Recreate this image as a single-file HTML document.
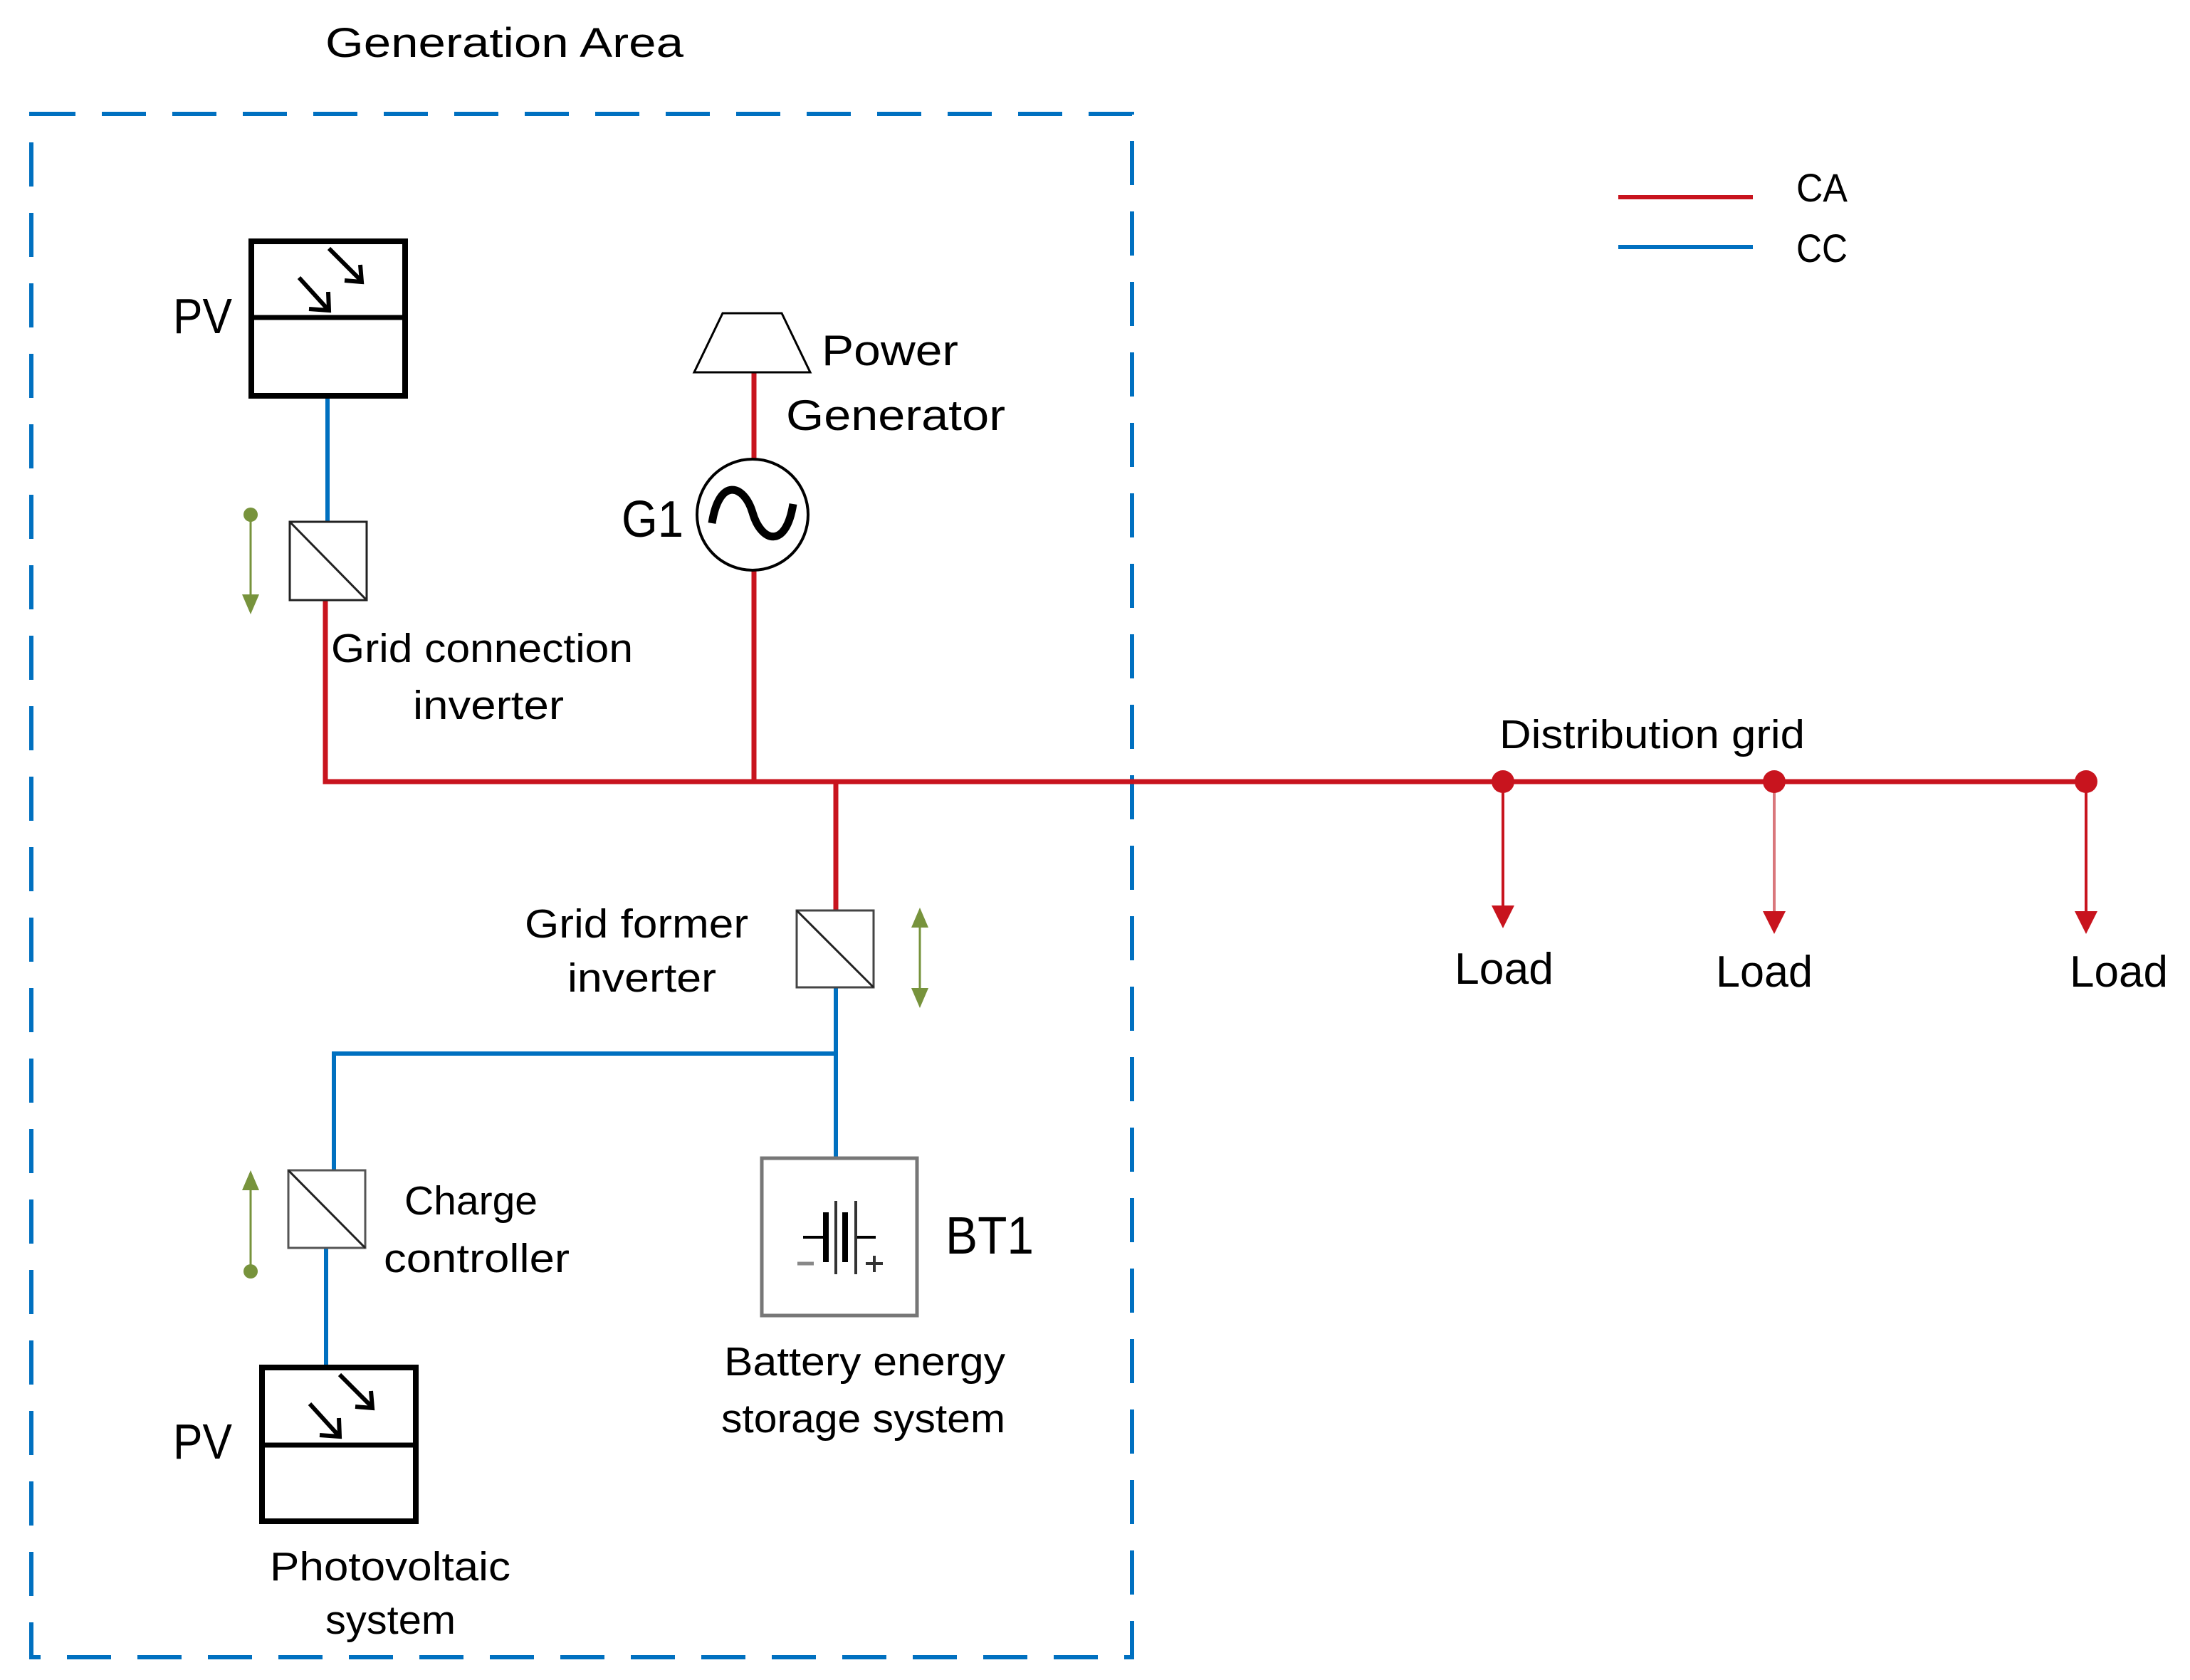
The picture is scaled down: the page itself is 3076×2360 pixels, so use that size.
<!DOCTYPE html>
<html><head><meta charset="utf-8"><style>html,body{margin:0;padding:0;background:#fff}svg{display:block}</style></head>
<body>
<svg width="3076" height="2360" viewBox="0 0 3076 2360" xmlns="http://www.w3.org/2000/svg" font-family="Liberation Sans, sans-serif" fill="#000">
<rect x="0" y="0" width="3076" height="2360" fill="#fff"/>
<rect x="44" y="160" width="1546" height="2168" fill="none" stroke="#0070C0" stroke-width="6" stroke-dasharray="62 37"/>
<g stroke-linecap="butt" fill="none">
<polyline points="457,843 457,1098 2930,1098" stroke="#C8141E" stroke-width="7"/>
<line x1="1059" y1="523" x2="1059" y2="645" stroke="#C8141E" stroke-width="7"/>
<line x1="1059" y1="801" x2="1059" y2="1098" stroke="#C8141E" stroke-width="7"/>
<line x1="1174" y1="1098" x2="1174" y2="1279" stroke="#C8141E" stroke-width="7"/>
<line x1="2111" y1="1098" x2="2111" y2="1280" stroke="#C8141E" stroke-width="4"/>
<line x1="2492" y1="1098" x2="2492" y2="1288" stroke="#D9777C" stroke-width="4"/>
<line x1="2930" y1="1098" x2="2930" y2="1288" stroke="#C8141E" stroke-width="4"/>
<line x1="460" y1="560" x2="460" y2="733" stroke="#0070C0" stroke-width="6"/>
<polyline points="1174,1387 1174,1625" stroke="#0070C0" stroke-width="6"/>
<polyline points="469,1644 469,1480 1174,1480" stroke="#0070C0" stroke-width="6"/>
<line x1="458" y1="1753" x2="458" y2="1917" stroke="#0070C0" stroke-width="6"/>
<line x1="2273" y1="277" x2="2462" y2="277" stroke="#C8141E" stroke-width="6"/>
<line x1="2273" y1="347" x2="2462" y2="347" stroke="#0070C0" stroke-width="6"/>
</g>
<g fill="#C8141E">
<circle cx="2111" cy="1098" r="16"/><circle cx="2492" cy="1098" r="16"/><circle cx="2930" cy="1098" r="16"/>
<polygon points="2095,1272 2127,1272 2111,1304"/>
<polygon points="2476,1280 2508,1280 2492,1312"/>
<polygon points="2914,1280 2946,1280 2930,1312"/>
</g>
<rect x="353" y="339" width="216" height="217" fill="none" stroke="#000" stroke-width="8"/>
<line x1="353" y1="446" x2="569" y2="446" stroke="#000" stroke-width="7"/>
<g stroke="#000" stroke-width="6" fill="none">
<line x1="462" y1="349" x2="507" y2="394"/><polyline points="484,394 508,396 506,372"/>
<line x1="420" y1="390" x2="460" y2="434"/><polyline points="434,434 462,436 461,410"/>
</g>
<rect x="368" y="1921" width="216" height="216" fill="none" stroke="#000" stroke-width="8"/>
<line x1="368" y1="2030" x2="584" y2="2030" stroke="#000" stroke-width="7"/>
<g stroke="#000" stroke-width="6" fill="none">
<line x1="477" y1="1931" x2="522" y2="1976"/><polyline points="499,1976 523,1978 521,1954"/>
<line x1="435" y1="1972" x2="475" y2="2016"/><polyline points="449,2016 477,2018 476,1992"/>
</g>
<g fill="#fff" stroke="#222" stroke-width="3">
<rect x="407" y="733" width="108" height="110"/><line x1="407" y1="733" x2="515" y2="843"/>
<rect x="1119" y="1279" width="108" height="108" stroke="#444"/><line x1="1119" y1="1279" x2="1227" y2="1387"/>
<rect x="405" y="1644" width="108" height="109" stroke="#555"/><line x1="405" y1="1644" x2="513" y2="1753"/>
</g>
<g stroke="#77933C" stroke-width="3" fill="#77933C">
<circle cx="352" cy="723" r="10" stroke="none"/><line x1="352" y1="723" x2="352" y2="845"/><polygon points="340,835 364,835 352,863" stroke="none"/>
<line x1="1292" y1="1295" x2="1292" y2="1396"/><polygon points="1280,1303 1304,1303 1292,1275" stroke="none"/><polygon points="1280,1388 1304,1388 1292,1416" stroke="none"/>
<circle cx="352" cy="1786" r="10" stroke="none"/><line x1="352" y1="1786" x2="352" y2="1664"/><polygon points="340,1672 364,1672 352,1644" stroke="none"/>
</g>
<polygon points="1015,440 1098,440 1138,523 975,523" fill="#fff" stroke="#000" stroke-width="3"/>
<ellipse cx="1057" cy="723" rx="78" ry="78" fill="#fff" stroke="#000" stroke-width="4"/>
<path d="M1000,735 C1010,670 1045,680 1057,720 C1069,762 1104,772 1114,708" fill="none" stroke="#000" stroke-width="11"/>
<rect x="1070" y="1627" width="218" height="221" fill="#fff" stroke="#777" stroke-width="5"/>
<g stroke="#000">
<line x1="1128" y1="1738" x2="1158" y2="1738" stroke-width="4"/>
<line x1="1160" y1="1703" x2="1160" y2="1773" stroke-width="8"/>
<line x1="1174" y1="1687" x2="1174" y2="1790" stroke-width="4" stroke="#333"/>
<line x1="1187" y1="1703" x2="1187" y2="1773" stroke-width="8"/>
<line x1="1202" y1="1687" x2="1202" y2="1790" stroke-width="4" stroke="#333"/>
<line x1="1204" y1="1738" x2="1230" y2="1738" stroke-width="4"/>
<line x1="1120" y1="1775" x2="1143" y2="1775" stroke-width="5" stroke="#888"/>
<line x1="1216" y1="1775" x2="1240" y2="1775" stroke-width="4" stroke="#333"/>
<line x1="1228" y1="1764" x2="1228" y2="1787" stroke-width="4" stroke="#333"/>
</g>
<g>
<text x="457" y="80" font-size="58" textLength="503" lengthAdjust="spacingAndGlyphs">Generation Area</text>
<text x="243" y="468" font-size="70" textLength="83" lengthAdjust="spacingAndGlyphs">PV</text>
<text x="1154" y="513" font-size="60" textLength="192" lengthAdjust="spacingAndGlyphs">Power</text>
<text x="1104" y="604" font-size="60" textLength="308" lengthAdjust="spacingAndGlyphs">Generator</text>
<text x="873" y="754" font-size="72" textLength="87" lengthAdjust="spacingAndGlyphs">G1</text>
<text x="465" y="930" font-size="57" textLength="424" lengthAdjust="spacingAndGlyphs">Grid connection</text>
<text x="580" y="1010" font-size="57" textLength="212" lengthAdjust="spacingAndGlyphs">inverter</text>
<text x="737" y="1317" font-size="57" textLength="314" lengthAdjust="spacingAndGlyphs">Grid former</text>
<text x="797" y="1393" font-size="57" textLength="209" lengthAdjust="spacingAndGlyphs">inverter</text>
<text x="568" y="1706" font-size="57" textLength="187" lengthAdjust="spacingAndGlyphs">Charge</text>
<text x="539" y="1787" font-size="57" textLength="261" lengthAdjust="spacingAndGlyphs">controller</text>
<text x="1328" y="1761" font-size="74" textLength="124" lengthAdjust="spacingAndGlyphs">BT1</text>
<text x="1017" y="1932" font-size="57" textLength="395" lengthAdjust="spacingAndGlyphs">Battery energy</text>
<text x="1013" y="2012" font-size="57" textLength="399" lengthAdjust="spacingAndGlyphs">storage system</text>
<text x="243" y="2049" font-size="70" textLength="83" lengthAdjust="spacingAndGlyphs">PV</text>
<text x="379" y="2220" font-size="57" textLength="338" lengthAdjust="spacingAndGlyphs">Photovoltaic</text>
<text x="457" y="2295" font-size="57" textLength="183" lengthAdjust="spacingAndGlyphs">system</text>
<text x="2106" y="1051" font-size="57" textLength="429" lengthAdjust="spacingAndGlyphs">Distribution grid</text>
<text x="2043" y="1382" font-size="62" textLength="139" lengthAdjust="spacingAndGlyphs">Load</text>
<text x="2410" y="1386" font-size="62" textLength="136" lengthAdjust="spacingAndGlyphs">Load</text>
<text x="2907" y="1386" font-size="62" textLength="138" lengthAdjust="spacingAndGlyphs">Load</text>
<text x="2523" y="283" font-size="56" textLength="72" lengthAdjust="spacingAndGlyphs">CA</text>
<text x="2523" y="368" font-size="56" textLength="72" lengthAdjust="spacingAndGlyphs">CC</text>
</g>
</svg>
</body></html>
